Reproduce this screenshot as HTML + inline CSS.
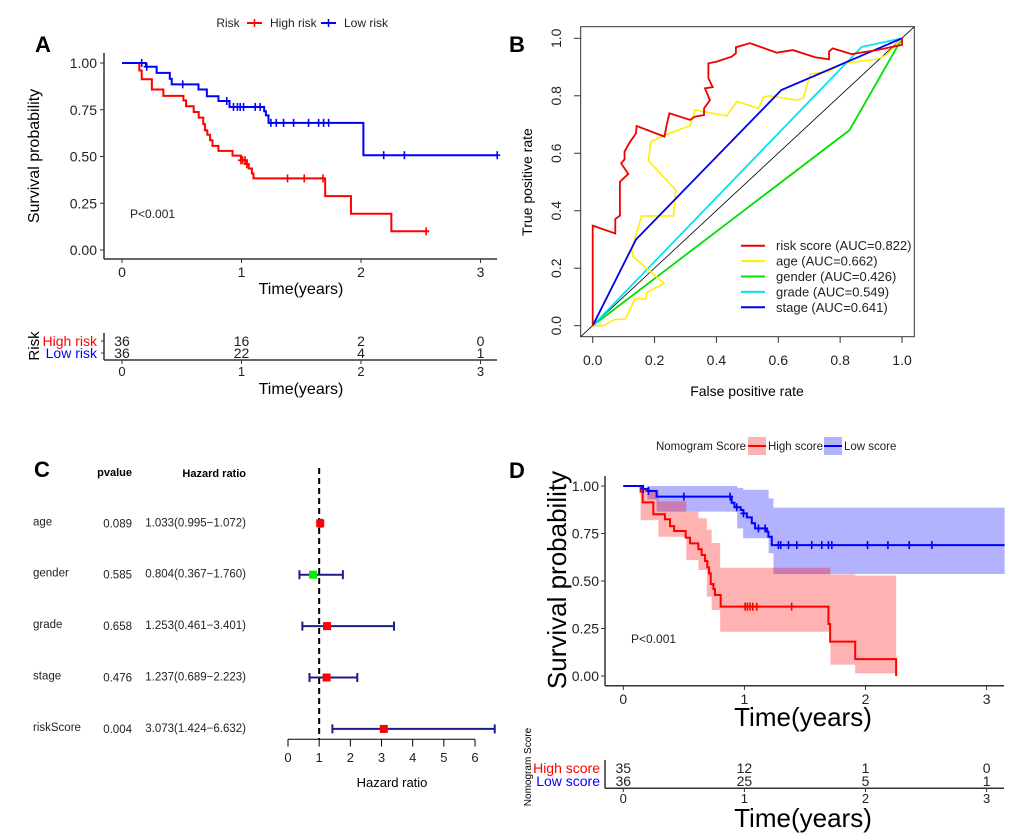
<!DOCTYPE html>
<html><head><meta charset="utf-8"><style>
html,body{margin:0;padding:0;background:#fff;}
svg{display:block;font-family:"Liberation Sans",Arial,sans-serif;}
</style></head><body>
<svg id="fig" width="1020" height="840" viewBox="0 0 1020 840" xmlns="http://www.w3.org/2000/svg"></svg>
<script>
// ---------- Panel A data ----------
const aHighT = [0.145,0.165,0.25,0.346,0.514,0.536,0.60,0.642,0.68,0.694,0.714,0.737,0.757,0.807,0.925,0.995,1.045,1.06,1.087,1.10,1.70,1.916,2.254];
const aHighS = [0.96,0.913,0.858,0.824,0.80,0.769,0.738,0.708,0.673,0.64,0.616,0.587,0.557,0.53,0.505,0.48,0.459,0.436,0.409,0.383,0.288,0.194,0.10];
const aHighEnd = 2.567;
const aHighCens = [0.995,1.01,1.03,1.045,1.385,1.525,1.682,2.545];
const aLowT = [0.20,0.29,0.40,0.416,0.64,0.71,0.807,0.90,1.19,1.204,1.226,2.02];
const aLowS = [0.98,0.947,0.916,0.886,0.858,0.822,0.797,0.765,0.742,0.72,0.68,0.507];
const aLowEnd = 3.145;
const aLowCens = [0.165,0.207,0.508,0.877,0.933,0.966,0.989,1.017,1.115,1.156,1.246,1.291,1.352,1.436,1.561,1.645,1.687,1.729,2.19,2.363,3.14];
const aHighNums = [36,16,2,0];
const aLowNums = [36,22,4,1];
const aTicksX = [0,1,2,3];
const aTicksY = [0,0.25,0.5,0.75,1];

// ---------- Panel B data ----------
const rocRiskF = [0,0,0.073,0.073,0.088,0.088,0.115,0.092,0.103,0.103,0.121,0.14,0.142,0.232,0.239,0.248,0.315,0.33,0.36,0.36,0.379,0.363,0.388,0.374,0.374,0.401,0.449,0.463,0.463,0.509,0.595,0.647,0.719,0.764,0.764,0.776,0.837,0.918,1,1];
const rocRiskT = [0,0.348,0.321,0.371,0.383,0.501,0.528,0.565,0.579,0.606,0.64,0.669,0.695,0.658,0.698,0.739,0.716,0.727,0.733,0.756,0.785,0.826,0.83,0.861,0.913,0.919,0.936,0.948,0.969,0.983,0.95,0.959,0.934,0.927,0.954,0.965,0.945,0.959,0.977,1];
const rocAgeF = [0,0.034,0.072,0.105,0.137,0.172,0.175,0.231,0.131,0.126,0.158,0.261,0.269,0.18,0.188,0.234,0.315,0.33,0.433,0.466,0.536,0.552,0.571,0.659,0.681,0.703,0.762,0.81,0.918,0.95,1];
const rocAgeT = [0,0,0.022,0.022,0.093,0.093,0.116,0.147,0.24,0.263,0.382,0.382,0.472,0.574,0.64,0.664,0.696,0.751,0.73,0.78,0.756,0.795,0.8,0.785,0.791,0.876,0.884,0.913,0.927,0.942,1];
const rocGenderF = [0,0.83,1];
const rocGenderT = [0,0.68,1];
const rocGradeF = [0,0.87,1];
const rocGradeT = [0,0.97,1];
const rocStageF = [0,0.14,0.61,1];
const rocStageT = [0,0.30,0.82,1];
const bTicks = [0,0.2,0.4,0.6,0.8,1.0];
const bTickLabels = ["0.0","0.2","0.4","0.6","0.8","1.0"];
const bLegendLabels = ["risk score (AUC=0.822)","age (AUC=0.662)","gender (AUC=0.426)","grade (AUC=0.549)","stage (AUC=0.641)"];

// ---------- Panel C data ----------
const cNames = ["age","gender","grade","stage","riskScore"];
const cPvals = ["0.089","0.585","0.658","0.476","0.004"];
const cHR = [1.033,0.804,1.253,1.237,3.073];
const cLow = [0.995,0.367,0.461,0.689,1.424];
const cHigh = [1.072,1.760,3.401,2.223,6.632];
const cTicks = [0,1,2,3,4,5,6];

// ---------- Panel D data ----------
const dHighT = [0.143,0.16,0.248,0.344,0.386,0.42,0.515,0.551,0.62,0.647,0.675,0.694,0.708,0.722,0.744,0.757,0.804,1.694,1.708,1.915,2.253];
const dHighS = [0.97,0.914,0.851,0.825,0.789,0.763,0.728,0.698,0.667,0.637,0.605,0.572,0.54,0.484,0.458,0.426,0.365,0.274,0.181,0.089,0];
const dHighEnd = 2.253;
const dHighCens = [1.006,1.025,1.047,1.069,1.102,1.39];
const dHighBandT = [0,0.143,0.29,0.52,0.62,0.69,0.73,0.80,1.71,1.915];
const dHighUp = [1,0.98,0.92,0.865,0.83,0.77,0.70,0.57,0.535,0.528];
const dHighLo = [1,0.82,0.733,0.61,0.558,0.418,0.347,0.233,0.06,0.014];
const dHighBandEnd = 2.253;
const dLowT = [0.16,0.207,0.275,0.895,0.918,0.97,0.992,1.02,1.061,1.088,1.185,1.198,1.226];
const dLowS = [0.985,0.974,0.944,0.912,0.888,0.874,0.856,0.835,0.804,0.777,0.76,0.733,0.689];
const dLowEnd = 3.149;
const dLowCens = [0.165,0.207,0.5,0.882,0.937,0.992,1.116,1.171,1.281,1.3,1.364,1.433,1.556,1.639,1.694,1.722,2.017,2.185,2.361,2.548];
const dLowBandT = [0,0.2,0.275,0.94,0.99,1.2,1.24];
const dLowUp = [1,1,1,0.99,0.98,0.935,0.886];
const dLowLo = [1,0.93,0.865,0.777,0.725,0.646,0.537];
const dLowBandEnd = 3.149;
const dHighNums = [35,12,1,0];
const dLowNums = [36,25,5,1];

// ---------- helpers ----------
const NS = "http://www.w3.org/2000/svg";
const svg = document.getElementById('fig');
function mk(tag, attrs, name) {
  const el = document.createElementNS(NS, tag);
  for (const k in attrs) el.setAttribute(k, attrs[k]);
  
  
  svg.appendChild(el);
  return el;
}
function ln(x1,y1,x2,y2,stroke,w,name,dash){
  const a={x1:x1,y1:y1,x2:x2,y2:y2,stroke:stroke,'stroke-width':w};
  if(dash) a['stroke-dasharray']=dash;
  return mk('line',a,name);
}
function tx(x,y,s,size,anchor,fill,name,weight,rot){
  const a={x:x,y:y,'font-size':size,'text-anchor':anchor||'start',fill:fill||'#000'};
  if(weight) a['font-weight']=weight;
  if(rot) a.transform='rotate('+rot+' '+x+' '+y+')';
  const el=mk('text',a,name);
  el.textContent=s;
  return el;
}
function stepPath(T,S,end,xf,yf){
  let d='M'+xf(0)+' '+yf(1);
  for(let i=0;i<T.length;i++){ d+=' H'+xf(T[i])+' V'+yf(S[i]); }
  d+=' H'+xf(end);
  return d;
}
function survAt(T,S,t){ let s=1; for(let i=0;i<T.length;i++){ if(T[i]<=t) s=S[i]; } return s; }
function censors(C,T,S,xf,yf,col,name){
  C.forEach(c=>{
    const x=xf(c), y=yf(survAt(T,S,c));
    ln(x,y-4,x,y+4,col,1.6,name);
    ln(x-3,y,x+3,y,col,1.6,name);
  });
}
function bandPath(T,U,L,end,xf,yf){
  let d='M'+xf(T[0])+' '+yf(U[0]);
  for(let i=1;i<T.length;i++){ d+=' H'+xf(T[i])+' V'+yf(U[i]); }
  d+=' H'+xf(end)+' V'+yf(L[L.length-1]);
  for(let i=T.length-1;i>=1;i--){ d+=' H'+xf(T[i])+' V'+yf(L[i-1]); }
  d+=' H'+xf(T[0])+' Z';
  return d;
}
function polyPts(F,T,xf,yf){ return F.map((f,i)=>xf(f)+','+yf(T[i])).join(' '); }

// ---------- Panel A ----------
const xA = t => 122 + 119.5*t;
const yA = s => 250 - 187*s;
tx(35,52,'A',22,'start','#000','panel-a-label','bold');
tx(228,27,'Risk',12,'middle','#222','legend-title-risk');
ln(247,23,262,23,'#f00',2,'legend-high-risk-key'); ln(254.5,19,254.5,27,'#f00',1.5,'legend-high-risk-key');
tx(270,27,'High risk',12,'start','#222','legend-high-risk');
ln(321,23,336,23,'#00f',2,'legend-low-risk-key'); ln(328.5,19,328.5,27,'#00f',1.5,'legend-low-risk-key');
tx(344,27,'Low risk',12,'start','#222','legend-low-risk');
ln(104,53,104,259,'#333',1.5,'a-y-axis');
ln(104,259,497,259,'#333',1.5,'a-x-axis');
aTicksY.forEach(v=>{ ln(100,yA(v),104,yA(v),'#333',1,'a-y-tick'); tx(97,yA(v)+5,v.toFixed(2),14,'end','#222','a-y-tick-label'); });
aTicksX.forEach(v=>{ ln(xA(v),259,xA(v),263,'#333',1,'a-x-tick'); tx(xA(v),277,String(v),14,'middle','#222','a-x-tick-label'); });
tx(301,294,'Time(years)',16,'middle','#000','a-x-axis-title');
tx(39,156,'Survival probability',16,'middle','#000','a-y-axis-title',null,-90);
tx(130,218,'P<0.001',12,'start','#222','a-p-value');
mk('path',{d:stepPath(aHighT,aHighS,aHighEnd,xA,yA),fill:'none',stroke:'#f00','stroke-width':2},'a-high-risk-curve');
mk('path',{d:stepPath(aLowT,aLowS,aLowEnd,xA,yA),fill:'none',stroke:'#00f','stroke-width':2},'a-low-risk-curve');
censors(aHighCens,aHighT,aHighS,xA,yA,'#f00','a-high-risk-censor');
censors(aLowCens,aLowT,aLowS,xA,yA,'#00f','a-low-risk-censor');
// risk table
ln(104,333,104,360,'#333',1.5,'a-table-y-axis');
ln(104,360,497,360,'#333',1.5,'a-table-x-axis');
ln(101,341,104,341,'#333',1,'a-table-tick'); ln(101,353,104,353,'#333',1,'a-table-tick');
tx(97,346,'High risk',14,'end','#f00','a-table-high-risk-label');
tx(97,358,'Low risk',14,'end','#00f','a-table-low-risk-label');
tx(39,346,'Risk',15,'middle','#000','a-table-title',null,-90);
aHighNums.forEach((n,i)=>tx(xA(i),346,String(n),14,'middle','#222','a-table-high-count'));
aLowNums.forEach((n,i)=>tx(xA(i),358,String(n),14,'middle','#222','a-table-low-count'));
aTicksX.forEach(v=>{ ln(xA(v),360,xA(v),364,'#333',1,'a-table-x-tick'); tx(xA(v),376,String(v),13,'middle','#222','a-table-x-tick-label'); });
tx(301,394,'Time(years)',16,'middle','#000','a-table-x-axis-title');

// ---------- Panel B ----------
const xB = f => 592.7 + 309.3*f;
const yB = t => 325.7 - 287.4*t;
tx(509,52,'B',22,'start','#000','panel-b-label','bold');
mk('rect',{x:580.7,y:26.7,width:333.6,height:310,fill:'none',stroke:'#333','stroke-width':1},'b-plot-box');
bTicks.forEach((v,i)=>{
  ln(xB(v),336.7,xB(v),343,'#333',1,'b-x-tick'); tx(xB(v),365,bTickLabels[i],14,'middle','#222','b-x-tick-label');
  ln(574,yB(v),580.7,yB(v),'#333',1,'b-y-tick'); tx(561,yB(v),bTickLabels[i],14,'middle','#222','b-y-tick-label',null,-90);
});
tx(747,396,'False positive rate',14,'middle','#000','b-x-axis-title');
tx(532,182,'True positive rate',14,'middle','#000','b-y-axis-title',null,-90);
mk('line',{x1:580.7,y1:336.7,x2:914.3,y2:26.7,stroke:'#000','stroke-width':0.8},'b-diagonal');
mk('polyline',{points:polyPts(rocGenderF,rocGenderT,xB,yB),fill:'none',stroke:'#00e000','stroke-width':1.8},'b-roc-gender');
mk('polyline',{points:polyPts(rocGradeF,rocGradeT,xB,yB),fill:'none',stroke:'#00e5ee','stroke-width':1.8},'b-roc-grade');
mk('polyline',{points:polyPts(rocAgeF,rocAgeT,xB,yB),fill:'none',stroke:'#ffee00','stroke-width':1.6},'b-roc-age');
mk('polyline',{points:polyPts(rocStageF,rocStageT,xB,yB),fill:'none',stroke:'#0000ee','stroke-width':1.8},'b-roc-stage');
mk('polyline',{points:polyPts(rocRiskF,rocRiskT,xB,yB),fill:'none',stroke:'#ee0000','stroke-width':1.8},'b-roc-risk-score');
const bLegCols = ['#ee0000','#ffee00','#00e000','#00e5ee','#0000ee'];
bLegendLabels.forEach((s,i)=>{
  const y=245.7+15.4*i;
  ln(741,y,765,y,bLegCols[i],2,'b-legend-key');
  tx(776,y+4.5,s,13,'start','#222','b-legend-entry');
});

// ---------- Panel C ----------
const xC = h => 288 + 31.17*h;
const cRowY = i => 523.3 + 51.4*i;
tx(34,477,'C',22,'start','#000','panel-c-label','bold');
tx(132,476,'pvalue',11,'end','#000','c-pvalue-header','bold');
tx(246,477,'Hazard ratio',11,'end','#000','c-hr-header','bold');
ln(xC(1),468,xC(1),739,'#000',2,'c-reference-line','6,4');
cNames.forEach((n,i)=>{
  const y=cRowY(i);
  tx(33,y+2,n,11.5,'start','#222','c-variable-name');
  tx(132,y+4,cPvals[i],11.5,'end','#222','c-pvalue');
  tx(246,y+3,cHR[i].toFixed(3)+'('+cLow[i].toFixed(3)+'\u2212'+cHigh[i].toFixed(3)+')',11.5,'end','#222','c-hr-text');
  ln(xC(cLow[i]),y,xC(cHigh[i]),y,'#1c1c8a',2,'c-ci-line');
  ln(xC(cLow[i]),y-4.5,xC(cLow[i]),y+4.5,'#1c1c8a',2,'c-ci-cap');
  ln(xC(cHigh[i]),y-4.5,xC(cHigh[i]),y+4.5,'#1c1c8a',2,'c-ci-cap');
  mk('rect',{x:xC(cHR[i])-4,y:y-4,width:8,height:8,fill:(cHR[i]<1?'#00ee00':'#ff0000')},'c-hr-marker');
});
ln(xC(0),739.3,xC(6),739.3,'#000',1,'c-x-axis');
cTicks.forEach(v=>{ ln(xC(v),739.3,xC(v),746.5,'#000',1,'c-x-tick'); tx(xC(v),762,String(v),13,'middle','#222','c-x-tick-label'); });
tx(392,787,'Hazard ratio',13,'middle','#000','c-x-axis-title');

// ---------- Panel D ----------
const xD = t => 623.3 + 121.1*t;
const yD = s => 676 - 190*s;
tx(509,478,'D',22,'start','#000','panel-d-label','bold');
tx(701,450,'Nomogram Score',11.5,'middle','#222','legend-title-nomogram');
mk('rect',{x:748,y:437,width:18,height:18,fill:'#f9b3b3'},'legend-high-score-key');
ln(748,446,766,446,'#f00',2,'legend-high-score-key-line');
tx(768,450,'High score',11.5,'start','#222','legend-high-score');
mk('rect',{x:824,y:437,width:18,height:18,fill:'#b3b3f9'},'legend-low-score-key');
ln(824,446,842,446,'#00f',2,'legend-low-score-key-line');
tx(844,450,'Low score',11.5,'start','#222','legend-low-score');
mk('path',{d:bandPath(dLowBandT,dLowUp,dLowLo,dLowBandEnd,xD,yD),fill:'rgba(0,0,255,0.3)',stroke:'none'},'d-low-score-ci-band');
mk('path',{d:bandPath(dHighBandT,dHighUp,dHighLo,dHighBandEnd,xD,yD),fill:'rgba(255,0,0,0.3)',stroke:'none'},'d-high-score-ci-band');
ln(605,476,605,685.7,'#333',1.5,'d-y-axis');
ln(605,685.7,1004,685.7,'#333',1.5,'d-x-axis');
aTicksY.forEach(v=>{ ln(601,yD(v),605,yD(v),'#333',1,'d-y-tick'); tx(599,yD(v)+5,v.toFixed(2),14,'end','#222','d-y-tick-label'); });
aTicksX.forEach(v=>{ ln(xD(v),685.7,xD(v),690,'#333',1,'d-x-tick'); tx(xD(v),704,String(v),14,'middle','#222','d-x-tick-label'); });
tx(803,726,'Time(years)',26,'middle','#000','d-x-axis-title');
tx(566,580,'Survival probability',26,'middle','#000','d-y-axis-title',null,-90);
tx(631,643,'P<0.001',12,'start','#222','d-p-value');
mk('path',{d:stepPath(dHighT,dHighS,dHighEnd,xD,yD),fill:'none',stroke:'#f00','stroke-width':2},'d-high-score-curve');
mk('path',{d:stepPath(dLowT,dLowS,dLowEnd,xD,yD),fill:'none',stroke:'#00f','stroke-width':2},'d-low-score-curve');
censors(dHighCens,dHighT,dHighS,xD,yD,'#f00','d-high-score-censor');
censors(dLowCens,dLowT,dLowS,xD,yD,'#00f','d-low-score-censor');
ln(605,760,605,788.3,'#333',1.5,'d-table-y-axis');
ln(605,788.3,1004,788.3,'#333',1.5,'d-table-x-axis');
tx(600,773,'High score',14,'end','#f00','d-table-high-score-label');
tx(600,786,'Low score',14,'end','#00f','d-table-low-score-label');
tx(531,767,'Nomogram Score',10,'middle','#000','d-table-title',null,-90);
dHighNums.forEach((n,i)=>tx(xD(i),773,String(n),14,'middle','#222','d-table-high-count'));
dLowNums.forEach((n,i)=>tx(xD(i),786,String(n),14,'middle','#222','d-table-low-count'));
aTicksX.forEach(v=>{ ln(xD(v),788.3,xD(v),792,'#333',1,'d-table-x-tick'); tx(xD(v),803,String(v),13,'middle','#222','d-table-x-tick-label'); });
tx(803,827,'Time(years)',26,'middle','#000','d-table-x-axis-title');
</script>
</body></html>
